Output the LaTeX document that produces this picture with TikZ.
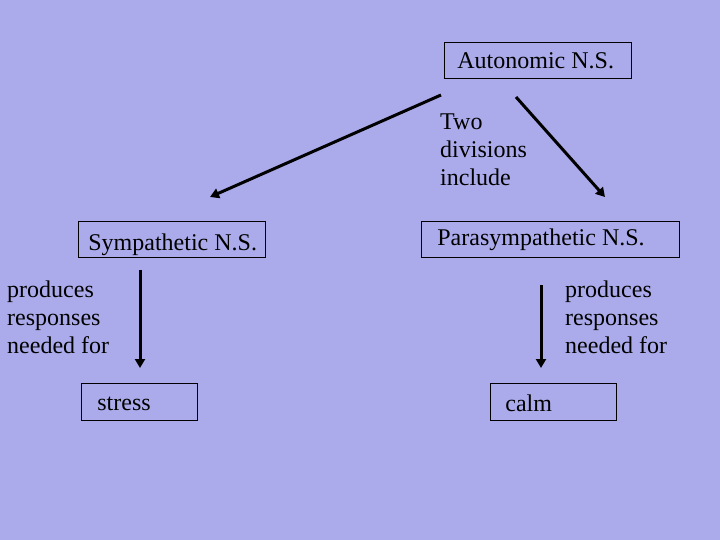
\documentclass[tikz,border=0pt]{standalone}
\usepackage{fontspec}
\setmainfont{Liberation Serif}
\usetikzlibrary{arrows.meta}
\definecolor{bg}{RGB}{171,171,235}
\newcommand{\boxtext}[3]{\makebox[#1][l]{\hspace*{#2}#3}}
\tikzset{
  box/.style={draw=black, line width=0.8pt, inner sep=0pt, anchor=north west, minimum height=36pt, font=\fontsize{24}{28}\selectfont},
  lbl/.style={inner sep=0pt, anchor=north west, align=left, font=\fontsize{24}{28}\selectfont},
  arr/.style={line width=3pt, -{Triangle[length=9pt,width=10pt]}}
}
\begin{document}
\begin{tikzpicture}[x=1pt,y=-1pt]
\fill[bg] (0,0) rectangle (720,540);
\useasboundingbox (0,0) rectangle (720,540);
\node[box, text height=26pt, text depth=10pt] (auto) at (444,42) {\boxtext{187pt}{13pt}{Autonomic N.S.}};
\node[box, text height=29pt, text depth=7pt] (symp) at (78,221) {\boxtext{187pt}{10pt}{Sympathetic N.S.}};
\node[box, text height=24pt, text depth=12pt] (para) at (421,221) {\boxtext{258pt}{16pt}{Parasympathetic N.S.}};
\node[box, text height=27pt, text depth=10pt] (stress) at (81,383) {\boxtext{116pt}{16pt}{stress}};
\node[box, text height=28pt, text depth=9pt] (calm) at (490,383) {\boxtext{126pt}{15pt}{calm}};
\node[lbl] (two) at (440,114) {Two\\divisions\\include};
\node[lbl] (prodl) at (7,281) {produces\\responses\\needed for};
\node[lbl] (prodr) at (565,281) {produces\\responses\\needed for};
\coordinate (a1s) at (441,95);
\coordinate (a1e) at (210,197);
\coordinate (a2s) at (516,97);
\coordinate (a2e) at (605,197);
\coordinate (a3s) at (140,270);
\coordinate (a3e) at (140,368);
\coordinate (a4s) at (541,285);
\coordinate (a4e) at (541,368);
\draw[arr] (a1s) -- (a1e);
\draw[arr] (a2s) -- (a2e);
\draw[arr] (a3s) -- (a3e);
\draw[arr] (a4s) -- (a4e);
\end{tikzpicture}
\end{document}
